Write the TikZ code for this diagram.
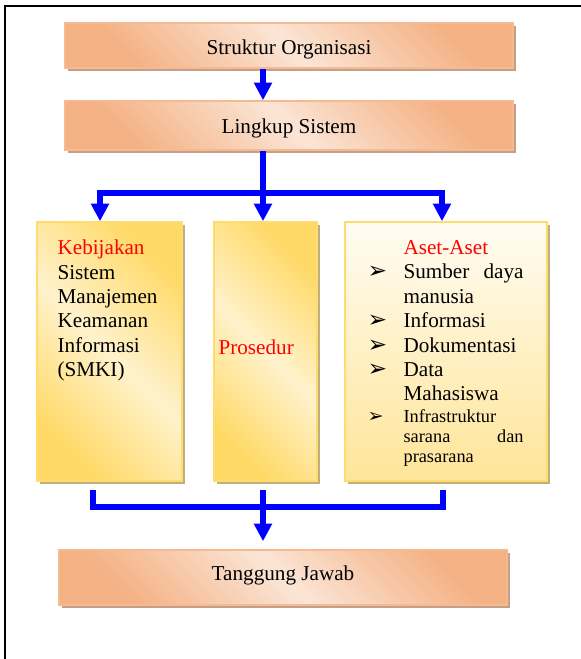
\documentclass[tikz,border=0pt]{standalone}
\usepackage{fontspec}
\setmainfont{Liberation Serif}
\newfontfamily\symfont{DejaVu Sans}
\usetikzlibrary{arrows.meta,shadows,positioning}

\definecolor{orgdark}{RGB}{244,177,131}
\definecolor{orglight}{RGB}{251,229,214}
\definecolor{orgedge}{RGB}{246,186,146}
\definecolor{orgshadow}{RGB}{197,160,137}
\definecolor{yeldark}{RGB}{255,217,102}
\definecolor{yellight}{RGB}{255,242,204}
\definecolor{yeledge}{RGB}{255,220,110}
\definecolor{yelshadow}{RGB}{191,174,128}
\definecolor{asettop}{RGB}{255,252,242}
\definecolor{asetbottom}{RGB}{255,229,153}

\newcommand\bul[1][14]{\leavevmode\llap{\makebox[21.6pt][l]{\symfont\fontsize{#1}{#1}\selectfont ➢}}}

\tikzset{
  orgbox/.style={draw=orgedge, line width=0.9pt, top color=orgdark, bottom color=orgdark,
    middle color=orglight, shading angle=-45,
    general shadow={fill=orgshadow, shadow xshift=1.8pt, shadow yshift=-1.8pt},
    minimum width=268.8pt, inner sep=0pt, text height=0pt, text depth=0pt,
    font=\fontsize{12.7}{15}\selectfont},
  yelbox/.style={draw=yeledge, line width=0.9pt, top color=yeldark, bottom color=yeldark,
    middle color=yellight, shading angle=-45,
    general shadow={fill=yelshadow, shadow xshift=1.8pt, shadow yshift=-1.8pt},
    minimum height=155.4pt, inner sep=0pt},
  boxtext/.style={inner sep=0pt, align=left, font=\fontsize{12.7}{14.64}\selectfont},
  conn/.style={draw=blue, line width=3.9pt},
  flow/.style={conn, -{Triangle[length=10.6pt, width=10.4pt]}},
  frame/.style={draw=black, line width=1.2pt}
}

\begin{document}
\begin{tikzpicture}[x=0.6pt, y=-0.6pt]
  \useasboundingbox (0,0) rectangle (581,659);
  \draw[frame] (5,659) -- (5,6) -- (581,6);

  \node[orgbox, minimum height=27pt] (struktur) at (289,45.5) {\raisebox{-5.4pt}{Struktur Organisasi}};
  \node[orgbox, minimum height=29.4pt] (lingkup) at (289,125.5) {\raisebox{-4.5pt}{Lingkup Sistem}};

  \node[yelbox, minimum width=87pt] (kebijakan) at (109.5,351.5) {};
  \node[yelbox, minimum width=61.8pt] (prosedur) at (265.5,351.5) {};
  \node[yelbox, minimum width=121.2pt, top color=asettop, bottom color=asetbottom,
    shading angle=0] (aset) at (446,351.5) {};

  \node[orgbox, minimum height=33pt] (tanggung) at (283,577.5) {\raisebox{-1.8pt}{Tanggung Jawab}};

  \node[boxtext, anchor=north west] (kebtext) at ([xshift=12.6pt, yshift=-11.1pt]kebijakan.north west)
    {\textcolor{red}{Kebijakan}\\Sistem\\Manajemen\\Keamanan\\Informasi\\(SMKI)};
  \node[boxtext, anchor=base west, text=red] (protext) at ([xshift=3pt, yshift=-1.5pt]prosedur.west) {Prosedur};
  \node[boxtext, text width=72pt, anchor=north west] (asettext)
    at ([xshift=35.4pt, yshift=-11.4pt]aset.north west)
    {\textcolor{red}{Aset-Aset}\\
     \bul Sumber\hfill daya\\
     manusia\\
     \bul Informasi\\
     \bul Dokumentasi\\
     \bul Data\\
     Mahasiswa\\[1.2pt]
     \fontsize{11}{12}\selectfont\bul[11.5]Infrastruktur\\
     sarana\hfill dan\\
     prasarana\par};

  % connectors
  \coordinate (split) at (263,193);
  \coordinate (join) at (263,507);
  \draw[flow] (struktur.south -| split) -- (lingkup.north -| split);
  \draw[flow] (lingkup.south -| split) -- (prosedur.north -| split);
  \draw[flow] (split) -| ([xshift=-5.7pt]kebijakan.north);
  \draw[flow] (split) -| ([xshift=-2.4pt]aset.north);
  \draw[conn] ([xshift=-9.9pt, yshift=-4.8pt]kebijakan.south) |- (join)
    -| ([xshift=-1.8pt, yshift=-4.8pt]aset.south);
  \draw[flow, shorten >=4.8pt] ([yshift=-4.8pt]prosedur.south -| join) -- (tanggung.north -| join);
\end{tikzpicture}
\end{document}
